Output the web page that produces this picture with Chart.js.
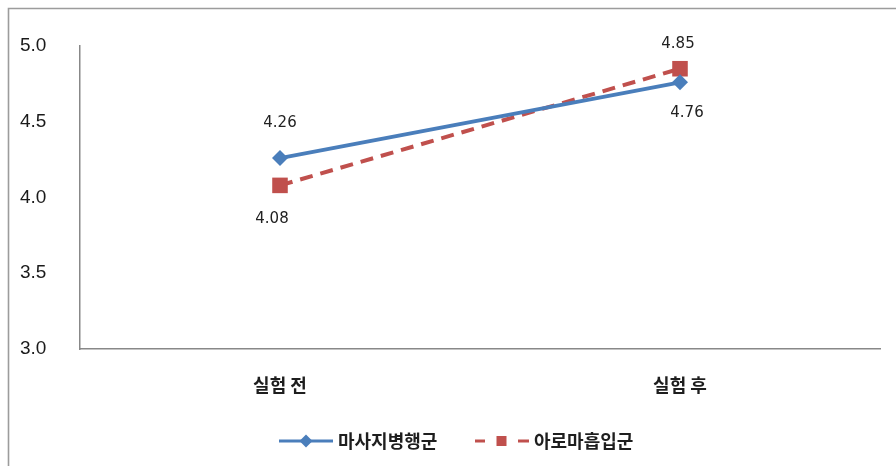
<!DOCTYPE html>
<html lang="ko">
<head>
<meta charset="utf-8">
<title>실험 전후 비교</title>
<script src="https://cdn.jsdelivr.net/npm/chart.js@4/dist/chart.umd.min.js"></script>
<style>
  html, body { margin: 0; padding: 0; background: #fff; }
  canvas { display: block; }
</style>
</head>
<body>
<canvas id="chart" width="896" height="466"></canvas>
<script>
// categories and group scores
const categories = ['실험 전', '실험 후'];
const massageGroup = [4.26, 4.76];   // 마사지병행군
const aromaGroup = [4.08, 4.85];     // 아로마흡입군
const yTicks = [3.0, 3.5, 4.0, 4.5, 5.0];

const BLUE = '#4a7ebb';
const RED = '#c0504d';
const KR_FONT = '"Noto Sans CJK KR", "Noto Sans", sans-serif';

// frame lines on the left and top edges
const framePlugin = {
  id: 'frame',
  beforeDraw(chart) {
    const ctx = chart.ctx;
    ctx.save();
    ctx.fillStyle = '#fff';
    ctx.fillRect(0, 0, chart.width, chart.height);
    ctx.strokeStyle = '#9c9c9c';
    ctx.lineWidth = 1.6;
    ctx.beginPath();
    ctx.moveTo(8.5, chart.height);
    ctx.lineTo(8.5, 8.5);
    ctx.lineTo(chart.width, 8.5);
    ctx.stroke();
    ctx.restore();
  }
};

// value labels next to each point
const valueLabels = {
  id: 'valueLabels',
  afterDatasetsDraw(chart) {
    const ctx = chart.ctx;
    ctx.save();
    ctx.font = '15px "DejaVu Sans", sans-serif';
    ctx.fillStyle = '#222';
    ctx.textAlign = 'center';
    ctx.textBaseline = 'middle';
    chart.data.datasets.forEach((ds, di) => {
      const meta = chart.getDatasetMeta(di);
      meta.data.forEach((pt, i) => {
        const off = ds.labelOffsets[i];
        ctx.fillText(ds.data[i].toFixed(2), pt.x + off[0], pt.y + off[1]);
      });
    });
    ctx.restore();
  }
};

// legend: line sample with marker, then series name
const lineLegend = {
  id: 'lineLegend',
  afterDraw(chart) {
    const ctx = chart.ctx;
    const y = 441;
    const starts = [279, 475];
    ctx.save();
    chart.data.datasets.forEach((ds, di) => {
      const x0 = starts[di];
      const x1 = x0 + 54;
      ctx.strokeStyle = ds.borderColor;
      ctx.lineWidth = 3;
      ctx.beginPath();
      if (ds.borderDash) {
        ctx.moveTo(x0, y); ctx.lineTo(x0 + 10, y);
        ctx.moveTo(x1 - 11, y); ctx.lineTo(x1, y);
      } else {
        ctx.moveTo(x0, y); ctx.lineTo(x1, y);
      }
      ctx.stroke();
      ctx.fillStyle = ds.pointBackgroundColor;
      const cx = (x0 + x1) / 2 + (ds.borderDash ? -0.5 : 0);
      if (ds.pointStyle === 'rectRot') {
        ctx.beginPath();
        ctx.moveTo(cx, y - 6.5); ctx.lineTo(cx + 6.5, y);
        ctx.lineTo(cx, y + 6.5); ctx.lineTo(cx - 6.5, y);
        ctx.closePath();
        ctx.fill();
      } else {
        ctx.fillRect(cx - 5, y - 5, 10, 10);
      }
      ctx.fillStyle = '#1e1e1e';
      ctx.font = 'bold 18px ' + KR_FONT;
      ctx.textAlign = 'left';
      ctx.textBaseline = 'middle';
      ctx.fillText(ds.label, x1 + 5, y);
    });
    ctx.restore();
  }
};

new Chart(document.getElementById('chart'), {
  type: 'line',
  data: {
    labels: categories,
    datasets: [
      {
        label: '마사지병행군',
        data: massageGroup,
        borderColor: BLUE,
        backgroundColor: BLUE,
        borderWidth: 4,
        pointStyle: 'rectRot',
        pointRadius: 8,
        pointBackgroundColor: BLUE,
        pointBorderColor: BLUE,
        pointBorderWidth: 0,
        tension: 0,
        labelOffsets: [[0, -35], [7, 31]]
      },
      {
        label: '아로마흡입군',
        data: aromaGroup,
        borderColor: RED,
        backgroundColor: RED,
        borderWidth: 4,
        borderDash: [13, 8],
        pointStyle: 'rect',
        pointRadius: 11,
        pointBackgroundColor: RED,
        pointBorderColor: RED,
        pointBorderWidth: 0,
        tension: 0,
        labelOffsets: [[-8, 34], [-2, -25]]
      }
    ]
  },
  options: {
    responsive: false,
    animation: false,
    layout: { padding: { left: 20, right: 16, top: 46, bottom: 0 } },
    plugins: {
      legend: { display: false },
      tooltip: { enabled: false }
    },
    scales: {
      x: {
        offset: true,
        grid: { display: false, drawTicks: false },
        border: { display: true, color: '#888', width: 1.5 },
        ticks: {
          padding: 25,
          color: '#1e1e1e',
          font: { family: KR_FONT, size: 18, weight: 'bold' }
        },
        afterFit(scale) { scale.height = 117; }
      },
      y: {
        min: 3,
        max: 5,
        afterBuildTicks(scale) { scale.ticks = yTicks.map(v => ({ value: v })); },
        grid: { display: false, drawTicks: false },
        border: { display: true, color: '#888', width: 1.5 },
        ticks: {
          crossAlign: 'far',
          color: '#1a1a1a',
          font: { family: '"Liberation Sans", Arial, sans-serif', size: 19 },
          callback: v => Number(v).toFixed(1)
        },
        afterFit(scale) { scale.width = 60; }
      }
    }
  },
  plugins: [framePlugin, valueLabels, lineLegend]
});
</script>
</body>
</html>
